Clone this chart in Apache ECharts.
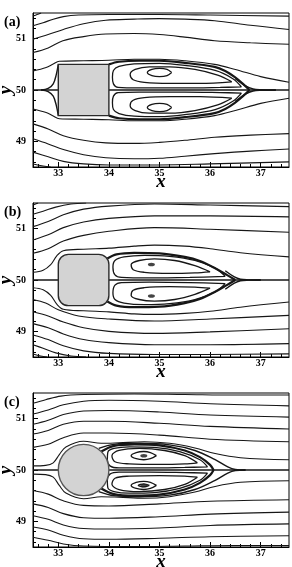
<!DOCTYPE html>
<html>
<head>
<meta charset="utf-8">
<script src="https://cdn.jsdelivr.net/npm/echarts@6.0.0/dist/echarts.min.js"></script>
<style>
  html, body { margin: 0; padding: 0; background: #fff; }
  #chart { width: 292px; height: 567px; }
</style>
</head>
<body>
<div id="chart"></div>
<script>
// axis ticks
const xMajor = [33, 34, 35, 36, 37];
const xMinor = [32.6, 32.8, 33.2, 33.4, 33.6, 33.8, 34.2, 34.4, 34.6, 34.8, 35.2, 35.4, 35.6, 35.8, 36.2, 36.4, 36.6, 36.8, 37.2, 37.4];
const yMajor = [49, 50, 51];
const yMinor = [48.6, 48.8, 49.2, 49.4, 49.6, 49.8, 50.2, 50.4, 50.6, 50.8, 51.2, 51.4];
const panelLabels = ['(a)', '(b)', '(c)'];

// bodies: [x0, y0, x1, y1, corner radius]  /  circle: [cx, cy, r]
const aBody = [33, 49.5, 34, 50.5, 0];
const bBody = [33, 49.5, 34, 50.5, 0.2];
const cBody = [33.5, 50, 0.5];

// ---------- panel (a) : square ----------
const aStream = [
  [[32.5, 51.44], [32.58, 51.47], [32.66, 51.5]],
  [[32.5, 51.25], [32.7, 51.31], [32.9, 51.38], [33.1, 51.43], [33.4, 51.46], [34, 51.47], [35, 51.47], [36, 51.46], [37.56, 51.44]],
  [[32.5, 50.99], [32.8, 51.08], [33.1, 51.18], [33.5, 51.29], [33.94, 51.36], [34.5, 51.38], [35, 51.39], [35.5, 51.38], [36.09, 51.35], [36.8, 51.26], [37.56, 51.18]],
  [[32.5, 50.73], [32.8, 50.82], [33.09, 50.96], [33.5, 51.04], [33.94, 51.09], [34.5, 51.1], [35, 51.08], [35.5, 51.03], [36.09, 50.96], [36.8, 50.92], [37.56, 50.89]],
  [[32.5, 50.37], [32.76, 50.44], [32.89, 50.5], [33.02, 50.56], [33.5, 50.57], [34, 50.58], [34.5, 50.6], [35, 50.6], [35.5, 50.57], [36.09, 50.5], [36.5, 50.4], [37, 50.26], [37.56, 50.15]],
  [[32.5, 49.63], [32.76, 49.56], [32.89, 49.5], [33.02, 49.44], [33.5, 49.43], [34, 49.42], [34.5, 49.4], [35, 49.4], [35.5, 49.43], [36.09, 49.5], [36.5, 49.6], [37, 49.74], [37.56, 49.84]],
  [[32.5, 49.34], [32.8, 49.24], [33.1, 49.11], [33.5, 49.02], [33.94, 48.97], [34.5, 48.96], [35, 48.98], [35.5, 49.02], [36.09, 49.08], [36.8, 49.12], [37.56, 49.15]],
  [[32.5, 49.05], [32.8, 48.95], [33.1, 48.84], [33.5, 48.74], [33.94, 48.68], [34.5, 48.66], [35, 48.67], [35.5, 48.71], [36.09, 48.76], [36.8, 48.81], [37.56, 48.85]],
  [[32.5, 48.79], [32.8, 48.7], [33.1, 48.61], [33.5, 48.56], [34, 48.54], [35, 48.54], [36, 48.56], [37.56, 48.6]],
  [[32.5, 48.56], [32.7, 48.52], [32.85, 48.5]]
];
const aCenter = [
  [[32.5, 50], [33, 50]],
  [[34, 50], [37.56, 50]],
  [[32.66, 50], [32.8, 50.03], [32.9, 50.12], [32.96, 50.3], [33.0, 50.5]],
  [[32.66, 50], [32.8, 49.97], [32.9, 49.88], [32.96, 49.7], [33.0, 49.5]],
  [[36.5, 50.22], [36.7, 50.08], [36.85, 50.02], [37.0, 50.005], [37.3, 50]],
  [[36.5, 49.78], [36.7, 49.92], [36.85, 49.98], [37.0, 49.995], [37.3, 50]]
];
const aBubble = [
  [[34, 50.5], [34.2, 50.55], [34.6, 50.57], [35, 50.57], [35.5, 50.53], [36.09, 50.45], [36.3, 50.37], [36.49, 50.25], [36.65, 50.12], [36.78, 50]],
  [[34, 49.5], [34.2, 49.45], [34.6, 49.43], [35, 49.43], [35.5, 49.47], [36.09, 49.55], [36.3, 49.63], [36.49, 49.75], [36.65, 49.88], [36.78, 50]]
];
const aLoops = [
  [[36.62, 50.06], [36.45, 50.22], [36.1, 50.38], [35.5, 50.48], [35, 50.52], [34.5, 50.51], [34.2, 50.46], [34.09, 50.38], [34.07, 50.25], [34.09, 50.12], [34.18, 50.05], [34.6, 50.04], [35.5, 50.04], [36.2, 50.05], [36.62, 50.06]],
  [[36.43, 50.16], [36.15, 50.29], [35.7, 50.4], [35.2, 50.45], [34.8, 50.45], [34.52, 50.4], [34.42, 50.3], [34.48, 50.2], [34.7, 50.15], [35.2, 50.13], [35.8, 50.13], [36.43, 50.16]],
  [[35.24, 50.34], [35.15, 50.4], [35, 50.42], [34.85, 50.4], [34.76, 50.34], [34.85, 50.28], [35, 50.26], [35.15, 50.28], [35.24, 50.34]],
  [[36.62, 49.94], [36.45, 49.78], [36.1, 49.62], [35.5, 49.52], [35, 49.48], [34.5, 49.49], [34.2, 49.54], [34.09, 49.62], [34.07, 49.75], [34.09, 49.88], [34.18, 49.95], [34.6, 49.96], [35.5, 49.96], [36.2, 49.95], [36.62, 49.94]],
  [[36.43, 49.84], [36.15, 49.71], [35.7, 49.6], [35.2, 49.55], [34.8, 49.55], [34.52, 49.6], [34.42, 49.7], [34.48, 49.8], [34.7, 49.85], [35.2, 49.87], [35.8, 49.87], [36.43, 49.84]],
  [[35.24, 49.66], [35.15, 49.72], [35, 49.74], [34.85, 49.72], [34.76, 49.66], [34.85, 49.6], [35, 49.58], [35.15, 49.6], [35.24, 49.66]]
];
const aCores = [];

// ---------- panel (b) : rounded square ----------
const bStream = [
  [[32.5, 51.46], [32.6, 51.5]],
  [[32.5, 51.28], [32.7, 51.34], [32.95, 51.42], [33.25, 51.48], [33.55, 51.5]],
  [[32.5, 51.04], [32.8, 51.14], [33.1, 51.27], [33.5, 51.38], [34, 51.44], [34.9, 51.48], [36, 51.46], [37.56, 51.43]],
  [[32.5, 50.78], [32.8, 50.88], [33.1, 51.02], [33.5, 51.13], [34, 51.2], [34.9, 51.25], [36, 51.25], [37.56, 51.23]],
  [[32.5, 50.52], [32.8, 50.61], [33.1, 50.76], [33.5, 50.87], [34, 50.95], [34.9, 51.02], [36, 50.99], [37.56, 50.93]],
  [[32.5, 50.15], [32.7, 50.19], [32.85, 50.3], [32.97, 50.47], [33.1, 50.57], [33.5, 50.6], [34, 50.62], [34.5, 50.66], [34.9, 50.68], [35.5, 50.66], [36, 50.61], [36.6, 50.53], [37.56, 50.45]],
  [[32.5, 49.85], [32.7, 49.81], [32.85, 49.7], [32.97, 49.53], [33.1, 49.43], [33.5, 49.4], [34, 49.38], [34.5, 49.34], [34.9, 49.33], [35.5, 49.35], [36, 49.39], [36.6, 49.47], [37.56, 49.57]],
  [[32.5, 49.62], [32.75, 49.55], [33.0, 49.42], [33.4, 49.3], [34, 49.24], [34.9, 49.2], [36, 49.24], [37.56, 49.31]],
  [[32.5, 49.38], [32.8, 49.3], [33.1, 49.18], [33.5, 49.07], [34, 49.0], [34.9, 48.96], [36, 48.99], [37.56, 49.05]],
  [[32.5, 49.15], [32.8, 49.07], [33.1, 48.95], [33.5, 48.84], [34, 48.78], [34.9, 48.74], [36, 48.74], [37.56, 48.76]],
  [[32.5, 48.93], [32.8, 48.84], [33.1, 48.72], [33.5, 48.62], [34, 48.57], [34.9, 48.55], [36, 48.55], [37.56, 48.56]],
  [[32.5, 48.74], [32.7, 48.67], [32.95, 48.58], [33.25, 48.52], [33.55, 48.5]],
  [[32.5, 48.56], [32.65, 48.52], [32.78, 48.5]]
];
const bCenter = [
  [[32.5, 50], [33, 50]],
  [[34, 50], [37.56, 50]],
  [[36.3, 50.18], [36.48, 50.06], [36.6, 50.015], [36.75, 50.003], [37.0, 50]],
  [[36.3, 49.82], [36.48, 49.94], [36.6, 49.985], [36.75, 49.997], [37.0, 50]]
];
const bBubble = [
  [[33.97, 50.42], [34.15, 50.5], [34.5, 50.53], [35, 50.52], [35.5, 50.45], [35.8, 50.37], [36.1, 50.23], [36.33, 50.1], [36.5, 50]],
  [[33.97, 49.58], [34.15, 49.5], [34.5, 49.47], [35, 49.48], [35.5, 49.55], [35.8, 49.63], [36.1, 49.77], [36.33, 49.9], [36.5, 50]]
];
const bLoops = [
  [[36.3, 50.07], [36.1, 50.23], [35.7, 50.38], [35.2, 50.46], [34.7, 50.48], [34.3, 50.45], [34.12, 50.38], [34.08, 50.25], [34.12, 50.1], [34.25, 50.05], [34.8, 50.04], [35.6, 50.05], [36.3, 50.07]],
  [[36.0, 50.16], [35.7, 50.28], [35.3, 50.38], [34.9, 50.41], [34.6, 50.38], [34.44, 50.3], [34.48, 50.2], [34.7, 50.15], [35.2, 50.13], [35.7, 50.14], [36.0, 50.16]],
  [[36.3, 49.93], [36.1, 49.77], [35.7, 49.62], [35.2, 49.54], [34.7, 49.52], [34.3, 49.55], [34.12, 49.62], [34.08, 49.75], [34.12, 49.9], [34.25, 49.95], [34.8, 49.96], [35.6, 49.95], [36.3, 49.93]],
  [[36.0, 49.84], [35.7, 49.72], [35.3, 49.62], [34.9, 49.59], [34.6, 49.62], [34.44, 49.7], [34.48, 49.8], [34.7, 49.85], [35.2, 49.87], [35.7, 49.86], [36.0, 49.84]]
];
const bCores = [[34.84, 50.3], [34.84, 49.69]];

// ---------- panel (c) : circle ----------
const cStream = [
  [[32.5, 51.3], [32.75, 51.37], [33.05, 51.44], [33.5, 51.47], [34.5, 51.48], [35.5, 51.47], [36.5, 51.46], [37.56, 51.46]],
  [[32.5, 51.09], [32.8, 51.17], [33.1, 51.27], [33.5, 51.34], [34, 51.36], [35, 51.34], [36, 51.29], [37.56, 51.25]],
  [[32.5, 50.89], [32.8, 50.97], [33.1, 51.08], [33.5, 51.15], [34, 51.16], [35, 51.13], [36, 51.07], [37.56, 51.03]],
  [[32.5, 50.7], [32.8, 50.77], [33.1, 50.89], [33.5, 50.95], [34, 50.95], [35, 50.91], [36, 50.85], [37.56, 50.8]],
  [[32.5, 50.44], [32.8, 50.5], [33.1, 50.63], [33.5, 50.72], [34, 50.72], [35, 50.68], [36, 50.6], [37.56, 50.55]],
  [[32.5, 50.08], [32.75, 50.09], [32.9, 50.14], [33.02, 50.3], [33.15, 50.45], [33.5, 50.56], [33.85, 50.52], [34.2, 50.53], [34.7, 50.55], [35.2, 50.52], [35.7, 50.43], [36.1, 50.32], [36.6, 50.24], [37.56, 50.2]],
  [[32.5, 49.92], [32.75, 49.91], [32.9, 49.86], [33.02, 49.7], [33.15, 49.55], [33.5, 49.44], [33.85, 49.48], [34.2, 49.47], [34.7, 49.45], [35.2, 49.48], [35.7, 49.57], [36.1, 49.68], [36.6, 49.76], [37.56, 49.79]],
  [[32.5, 49.6], [32.8, 49.53], [33.1, 49.4], [33.5, 49.31], [34, 49.3], [35, 49.34], [36, 49.39], [37.56, 49.42]],
  [[32.5, 49.34], [32.8, 49.27], [33.1, 49.15], [33.5, 49.07], [34, 49.06], [35, 49.09], [36, 49.14], [37.56, 49.18]],
  [[32.5, 49.11], [32.8, 49.04], [33.1, 48.93], [33.5, 48.86], [34, 48.85], [35, 48.87], [36, 48.92], [37.56, 48.95]],
  [[32.5, 48.89], [32.8, 48.83], [33.1, 48.73], [33.5, 48.66], [34, 48.65], [35, 48.67], [36, 48.7], [37.56, 48.72]],
  [[32.5, 48.69], [32.8, 48.63], [33.1, 48.56], [33.5, 48.52], [34.5, 48.51], [35.5, 48.52], [36.5, 48.53], [37.56, 48.53]]
];
const cCenter = [
  [[32.5, 50], [33, 50]],
  [[34, 50], [37.56, 50]],
  [[33.8, 50.42], [34.1, 50.5], [34.6, 50.52], [35.2, 50.49], [35.7, 50.38], [36.1, 50.2], [36.35, 50.06], [36.5, 50.01], [36.7, 50]],
  [[33.8, 49.58], [34.1, 49.5], [34.6, 49.48], [35.2, 49.51], [35.7, 49.62], [36.1, 49.8], [36.35, 49.94], [36.5, 49.99], [36.7, 50]]
];
const cBubble = [
  [[33.85, 50.36], [34.1, 50.47], [34.5, 50.5], [35, 50.48], [35.5, 50.38], [35.8, 50.25], [36, 50.1], [36.07, 50]],
  [[33.85, 49.64], [34.1, 49.53], [34.5, 49.5], [35, 49.52], [35.5, 49.62], [35.8, 49.75], [36, 49.9], [36.07, 50]]
];
const cLoops = [
  [[35.95, 50.06], [35.8, 50.2], [35.4, 50.36], [34.9, 50.44], [34.4, 50.45], [34.1, 50.42], [33.98, 50.35], [33.97, 50.2], [34.02, 50.08], [34.2, 50.04], [34.8, 50.04], [35.5, 50.05], [35.95, 50.06]],
  [[35.75, 50.14], [35.5, 50.28], [35.1, 50.38], [34.6, 50.42], [34.2, 50.38], [34.06, 50.28], [34.12, 50.16], [34.4, 50.12], [35, 50.11], [35.5, 50.12], [35.75, 50.14]],
  [[34.94, 50.28], [34.82, 50.34], [34.69, 50.36], [34.54, 50.34], [34.44, 50.28], [34.54, 50.22], [34.69, 50.2], [34.82, 50.22], [34.94, 50.28]],
  [[35.95, 49.94], [35.8, 49.8], [35.4, 49.64], [34.9, 49.56], [34.4, 49.55], [34.1, 49.58], [33.98, 49.65], [33.97, 49.8], [34.02, 49.92], [34.2, 49.96], [34.8, 49.96], [35.5, 49.95], [35.95, 49.94]],
  [[35.75, 49.86], [35.5, 49.72], [35.1, 49.62], [34.6, 49.58], [34.2, 49.62], [34.06, 49.72], [34.12, 49.84], [34.4, 49.88], [35, 49.89], [35.5, 49.88], [35.75, 49.86]],
  [[34.94, 49.7], [34.82, 49.76], [34.69, 49.78], [34.54, 49.76], [34.44, 49.7], [34.54, 49.64], [34.69, 49.62], [34.82, 49.64], [34.94, 49.7]],
  [[34.8, 49.7], [34.69, 49.73], [34.58, 49.7], [34.69, 49.67], [34.8, 49.7]]
];
const cCores = [[34.69, 50.28], [34.69, 49.7]];

const gridTops = [13, 203, 393];
const serif = 'Liberation Serif';
const ink = '#161616';

let chart = echarts.init(document.getElementById('chart'));

let grids = [], xAxes = [], yAxes = [], series = [], titles = [];

function lines(list, gi, width) {
  list.forEach(function (d) {
    series.push({
      type: 'line', xAxisIndex: gi * 2, yAxisIndex: gi * 2,
      data: d, symbol: 'none', smooth: 0.35, silent: true, clip: true, z: 3,
      lineStyle: { color: ink, width: width }
    });
  });
}

function rectBody(gi, body) {
  series.push({
    type: 'custom', xAxisIndex: gi * 2, yAxisIndex: gi * 2, z: 5, silent: true, clip: true,
    data: [body],
    renderItem: function (params, api) {
      const p0 = api.coord([api.value(0), api.value(3)]);
      const p1 = api.coord([api.value(2), api.value(1)]);
      const r = api.size([api.value(4), 0])[0];
      return {
        type: 'rect',
        shape: { x: p0[0], y: p0[1], width: p1[0] - p0[0], height: p1[1] - p0[1], r: r },
        style: { fill: '#d3d3d3', stroke: '#2a2a2a', lineWidth: 1.4 }
      };
    }
  });
}

function circleBody(gi, body) {
  series.push({
    type: 'custom', xAxisIndex: gi * 2, yAxisIndex: gi * 2, z: 5, silent: true, clip: true,
    data: [body],
    renderItem: function (params, api) {
      const c = api.coord([api.value(0), api.value(1)]);
      const s = api.size([api.value(2), api.value(2)]);
      return {
        type: 'ellipse',
        shape: { cx: c[0], cy: c[1], rx: s[0], ry: s[1] },
        style: { fill: '#d3d3d3', stroke: '#555', lineWidth: 1.4 }
      };
    }
  });
}

const panels = [
  { stream: aStream, center: aCenter, bubble: aBubble, loops: aLoops, cores: aCores, body: aBody, round: false },
  { stream: bStream, center: bCenter, bubble: bBubble, loops: bLoops, cores: bCores, body: bBody, round: false },
  { stream: cStream, center: cCenter, bubble: cBubble, loops: cLoops, cores: cCores, body: cBody, round: true }
];

panels.forEach(function (p, gi) {
  grids.push({ left: 33, top: gridTops[gi], width: 256, height: 154, show: true, borderColor: '#000', borderWidth: 1,
    backgroundColor: 'transparent', containLabel: false, outerBoundsMode: 'none' });
  titles.push({ text: panelLabels[gi], left: 4, top: gridTops[gi] + 2, padding: 0,
    textStyle: { fontFamily: serif, fontWeight: 'bold', fontSize: 14, color: '#000' } });

  xAxes.push({
    gridIndex: gi, type: 'value', min: 32.5, max: 37.56, position: 'bottom',
    name: 'x', nameLocation: 'middle', nameGap: 6, nameMoveOverlap: false,
    nameTextStyle: { fontFamily: serif, fontWeight: 'bold', fontStyle: 'italic', fontSize: 19, color: '#000' },
    axisLine: { show: true, lineStyle: { color: '#000', width: 1 } },
    axisTick: { inside: true, length: 5, customValues: xMajor, lineStyle: { color: '#000' } },
    axisLabel: { customValues: xMajor, margin: 1, fontFamily: serif, fontWeight: 'bold', fontSize: 10, color: '#000' },
    splitLine: { show: false }
  });
  xAxes.push({
    gridIndex: gi, type: 'value', min: 32.5, max: 37.56, position: 'bottom',
    axisLine: { show: false },
    axisTick: { inside: true, length: 3, customValues: xMinor, lineStyle: { color: '#000' } },
    axisLabel: { show: false }, splitLine: { show: false }
  });
  yAxes.push({
    gridIndex: gi, type: 'value', min: 48.5, max: 51.5, position: 'left',
    name: 'y', nameLocation: 'middle', nameGap: 17, nameRotate: 90, nameMoveOverlap: false,
    nameTextStyle: { fontFamily: serif, fontWeight: 'bold', fontStyle: 'italic', fontSize: 19, color: '#000' },
    axisLine: { show: true, lineStyle: { color: '#000', width: 1 } },
    axisTick: { inside: true, length: 5, customValues: yMajor, lineStyle: { color: '#000' } },
    axisLabel: { customValues: yMajor, margin: 7, fontFamily: serif, fontWeight: 'bold', fontSize: 10, color: '#000' },
    splitLine: { show: false }
  });
  yAxes.push({
    gridIndex: gi, type: 'value', min: 48.5, max: 51.5, position: 'left',
    axisLine: { show: false },
    axisTick: { inside: true, length: 3, customValues: yMinor, lineStyle: { color: '#000' } },
    axisLabel: { show: false }, splitLine: { show: false }
  });

  lines(p.stream, gi, 1.1);
  lines(p.center, gi, 1.4);
  lines(p.loops, gi, 1.3);
  lines(p.bubble, gi, 2.2);
  if (p.cores.length) {
    series.push({
      type: 'scatter', xAxisIndex: gi * 2, yAxisIndex: gi * 2, data: p.cores, silent: true, z: 4,
      symbol: 'circle', symbolSize: [7, 3.5], itemStyle: { color: ink }
    });
  }
  if (p.round) circleBody(gi, p.body); else rectBody(gi, p.body);
});

chart.setOption({
  animation: false,
  backgroundColor: '#fff',
  title: titles,
  grid: grids,
  xAxis: xAxes,
  yAxis: yAxes,
  series: series
});
</script>
</body>
</html>
